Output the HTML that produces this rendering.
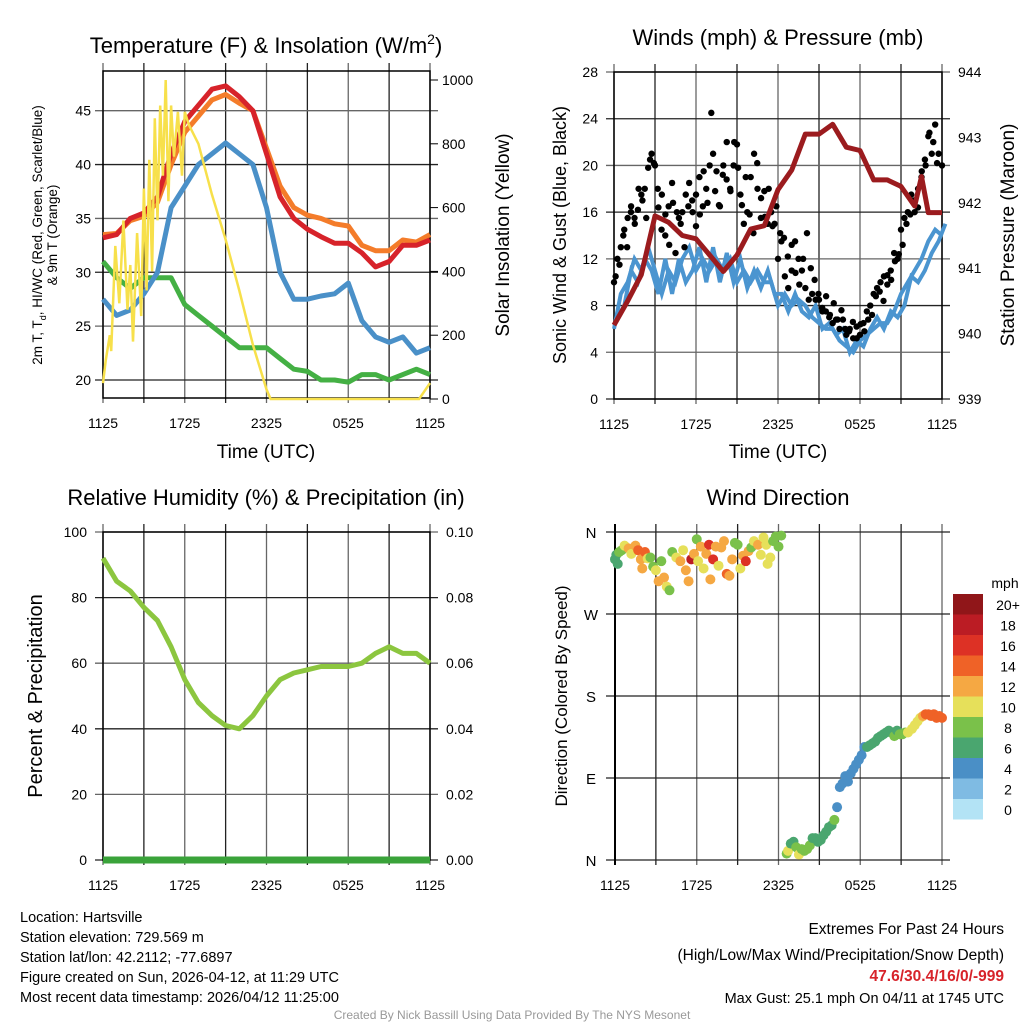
<!DOCTYPE html>
<html><head><meta charset="utf-8"><style>
body{margin:0;background:#fff;}
svg{display:block;font-family:"Liberation Sans",sans-serif;}
</style></head><body>
<svg id="c" width="1024" height="1024" viewBox="0 0 1024 1024"></svg>
<script>
// ---------- DATA ----------
const xTickLabels = ["1125","1725","2325","0525","1125"];
const tempHours = [0,1,2,3,4,5,6,7,8,9,10,11,12,13,14,15,16,17,18,19,20,21,22,23,24];
const tempRed = [33.2,33.5,35,35.5,37,41,44,45.5,47,47.3,46.3,45,41,37,35,34,33.3,32.7,32.7,31.8,30.5,31,32.5,32.5,33];
const temp9m = [33.5,33.6,34.8,35.2,36.5,40,43,44.5,46,46.5,45.7,45,41.5,38,36,35.3,35,34.5,34.3,32.5,32,32,33,32.8,33.5];
const tempBlue = [27.5,26,26.5,28,30,36,38,40,41,42,41,40,36,30,27.5,27.5,27.8,28,29,25.5,24,23.5,24,22.5,23];
const tempGreen = [31,29.5,28.5,29.5,29.5,29.5,27,26,25,24,23,23,23,22,21,20.8,20,20,19.8,20.5,20.5,20,20.5,21,20.5];
const solarHours = [0,0.2,0.5,0.6,0.9,1.2,1.5,1.8,2.0,2.2,2.5,2.8,3.0,3.2,3.4,3.6,3.8,4.0,4.2,4.4,4.6,4.8,5.0,5.2,5.5,5.8,6.0,6.3,7,8,9,10,11,12,12.3,23.2,24];
const solarVals = [50,120,200,150,480,300,560,280,420,180,520,260,660,340,750,400,880,560,920,700,1000,620,920,760,900,700,900,860,800,640,500,340,170,30,0,0,50];
const tempTicks = [20,25,30,35,40,45];
const solarTicks = [0,200,400,600,800,1000];
const windHours = [0,0.5,1,1.5,2,2.5,3,3.5,4,4.5,5,5.5,6,6.5,7,7.5,8,8.5,9,9.5,10,10.5,11,11.5,12,12.5,13,13.5,14,14.5,15,15.5,16,16.5,17,17.5,18,18.5,19,19.5,20,20.5,21,21.5,22,22.5,23,23.5,24];
const windVals = [6,9,10,12,11,13,11,9,11,10,12,13,11,12,11,12,11,12,10,11,10,11,10,10,8,9,8,8.5,8,7,6.5,6,6,5,4.5,4,5,5.5,6,6.5,6.5,7.5,9,10,11,12,13.5,14.5,14];
const windValsAlt = [7,8,11,10,12,11,9,12,9,12,10,11,13,10,13,10,12.5,10,12,9.5,11,9.5,11,9,9,7.5,9,7.5,7,8,6,6.5,5.5,6,4,5,4.5,6,7,6,7.5,7,8,10.5,10,11,12.5,13.5,15];
const gustVals = [10,12,13,14.5,15.5,16.5,15.5,16.2,17.5,18,19.8,21,20,16.4,17.5,14,16.5,18.5,12.5,15.5,16,17.5,18.5,16,17.5,19,16.5,18,20,21,19.5,16.5,20,22,18,20,21.8,17.5,15,16,19,21,18,15.5,17.8,15,16,15,12,13.5,10.5,9.5,11,13.5,12,11,9.5,8.5,9,8.5,8.5,7.5,7.5,7,6.5,6.8,6,6.8,5.5,6,5.2,6.2,5.5,6.5,7.5,8,9,9.5,10,10.5,9.8,11,12.5,12,14.5,15.5,16,17.5,16,18,19,20.5,22.5,21,23.5,21,20];
const gustVals2 = [10.5,11.5,14,13,16,15,18,17,15.5,20.5,20.2,18,14.5,15.8,13.2,16.8,16,15,13,16.5,17,14.8,15.8,19.5,16.8,24.5,17.8,16.6,19.2,18.8,17.8,22,19.8,16.6,19,15.8,14.2,20.2,17.2,15.6,18,14.8,16.5,14.2,13.8,12.2,13.2,10.8,9.8,12,14.2,11.2,10.2,9,7.8,8.8,7.2,8.2,6.8,7.6,6,5.8,6.6,5.2,6.4,5.8,6.8,7.2,8.8,9.2,8.4,10.6,10.2,11.8,12.4,13.2,15,15.8,17,16.4,19.5,20,22.8,22,20.2];
const pressHours = [0,1,2,3,4,5,6,7,8,9,10,11,12,13,14,15,16,17,18,19,20,21,22,22.5,23,24];
const pressVals = [940.13,940.5,940.9,941.8,941.7,941.5,941.45,941.2,940.95,941.2,941.6,941.65,942.2,942.5,943.05,943.05,943.2,942.85,942.8,942.35,942.35,942.25,941.95,942.4,941.85,941.85];
const windTicks = [0,4,8,12,16,20,24,28];
const pressTicks = [939,940,941,942,943,944];
const rhHours = [0,1,2,3,4,5,6,7,8,9,10,11,12,13,14,15,16,17,18,19,20,21,22,23,24];
const rhVals = [92,85,82,77,73,65,55,48,44,41,40,44,50,55,57,58,59,59,59,60,63,65,63,63,60];
const precipVals = [0,0,0,0,0,0,0,0,0,0,0,0,0,0,0,0,0,0,0,0,0,0,0,0,0];
const rhTicks = [0,20,40,60,80,100];
const precipTicks = ["0.00","0.02","0.04","0.06","0.08","0.10"];
const dirHours = [0,0.1,0.2,0.3,0.5,0.7,1.0,1.2,1.5,1.7,1.9,2.0,2.2,2.4,2.6,2.8,3.0,3.2,3.4,3.6,3.8,4.0,4.2,4.5,4.8,5.0,5.2,5.4,5.6,5.8,6.0,6.1,6.3,6.5,6.7,6.9,7.0,7.2,7.4,7.6,7.8,8.0,8.2,8.4,8.6,8.8,9.0,9.2,9.4,9.6,9.8,10.0,10.2,10.5,10.7,10.9,11.1,11.2,11.4,11.6,11.8,12.0,12.2,
 12.6,12.7,12.9,13.1,13.3,13.5,13.7,13.9,14.1,14.3,14.5,14.7,14.9,15.1,15.3,15.5,15.7,15.9,16.1,16.3,16.5,16.7,16.9,17.1,17.3,17.5,17.7,17.9,18.1,18.3,18.5,18.7,18.9,19.1,19.3,19.5,19.7,19.9,20.1,20.3,20.5,20.7,20.9,21.1,21.3,21.5,21.8,22.0,22.2,22.4,22.6,22.8,23.0,23.2,23.4,23.6,23.8,24.0];
const dirVals = [330,335,325,338,340,345,342,336,345,340,330,320,338,331,332,322,318,306,328,310,300,296,338,332,328,340,318,306,330,336,352,328,344,320,336,346,308,330,344,323,343,350,314,312,330,348,346,320,334,328,339,343,350,346,335,354,346,325,332,350,355,344,356,
 7,10,18,20,14,6,12,10,12,16,24,24,20,22,27,31,36,38,44,58,80,84,92,86,95,100,105,110,115,124,124,126,128,130,134,136,138,140,142,140,136,142,138,138,140,140,144,148,152,156,158,160,160,158,160,156,158,156];
const dirSpeeds = [6,6,6,8,8,10,12,10,12,14,12,12,14,10,8,8,10,12,8,12,10,8,8,10,12,10,12,12,18,12,8,10,12,10,12,16,12,16,12,10,12,12,14,12,12,8,8,10,12,16,12,8,10,12,10,10,10,10,10,8,8,8,8,
 8,10,6,6,8,10,8,8,8,8,6,6,6,6,6,6,6,6,8,4,4,4,4,4,4,4,4,4,4,4,6,6,6,6,6,6,6,6,6,6,8,6,8,8,8,10,10,10,10,10,12,14,14,14,14,14,14,14];
const dirLabels = ["N","E","S","W","N"];
const speedBins = ["0","2","4","6","8","10","12","14","16","18","20+"];
const speedColors = ["#b3e3f5","#7fbbe3","#4a8fc6","#4aa66f","#7ac14a","#e6e05a","#f5a843","#ef6227","#dd3125","#bb1c24","#901619"];

// ---------- DRAW ----------
const NS="http://www.w3.org/2000/svg";
const svg=document.getElementById('c');
function mk(tag,attrs,parent){const e=document.createElementNS(NS,tag);for(const k in attrs)e.setAttribute(k,attrs[k]);(parent||svg).appendChild(e);return e;}
function txt(s,x,y,size,anchor,parent,extra){const t=mk('text',Object.assign({x:x,y:y,'font-size':size,'text-anchor':anchor||'middle',fill:'#000'},extra||{}),parent);t.textContent=s;return t;}
function lin(d0,d1,r0,r1){return v=>r0+(v-d0)/(d1-d0)*(r1-r0);}
function pathD(xs,ys,fx,fy){return xs.map((h,i)=>(i?'L':'M')+fx(h).toFixed(1)+','+fy(ys[i]).toFixed(1)).join('');}

function frame(g,x0,y0,x1,y1,fx,yticksPx){
  for(let k=0;k<=8;k++){const x=x0+(x1-x0)*k/8;
    const l=mk('line',{x1:x,y1:y0-8,x2:x,y2:y1+5,stroke:k%2?'#222':'#666','stroke-width':1.3},g);
    
    }
  yticksPx.forEach((y,i)=>{const l=mk('line',{x1:x0-8,y1:y,x2:x1+8,y2:y,stroke:i%2?'#666':'#222','stroke-width':1.3},g);
    
    });
  const b=mk('rect',{x:x0,y:y0,width:x1-x0,height:y1-y0,fill:'none',stroke:'#000','stroke-width':1.5},g);
  
  
  xTickLabels.forEach((s,i)=>{const t=txt(s,x0+(x1-x0)*i/4,y1+30,14,'middle',g);
    
    });
}

// Panel 1
{const g=mk('g',{});
 const X0=103,X1=430,Y0=71,Y1=398;
 const fx=lin(0,24,X0,X1), fy=lin(20,45,380,110.7), fs=lin(0,1000,399,80);
 frame(g,X0,Y0,X1,Y1,fx,tempTicks.map(fy));
 tempTicks.forEach(v=>{const t=txt(String(v),X0-12,fy(v)+5,14,'end',g);});
 solarTicks.forEach(v=>{const t=txt(String(v),X1+12,fs(v)+5,14,'start',g);
   const m=mk('line',{x1:X1,y1:fs(v),x2:X1+8,y2:fs(v),stroke:'#000'},g);});
 [[tempGreen,'#44b044','td-line'],[tempBlue,'#4a90c8','hiwc-line'],[temp9m,'#f47c2a','temp-9m-line'],[tempRed,'#d7232a','temp-2m-line']].forEach(s=>{
   const p=mk('path',{d:pathD(tempHours,s[0],fx,fy),fill:'none',stroke:s[1],'stroke-width':5,'stroke-linejoin':'round'},g);
   
   });
 const sp=mk('path',{d:pathD(solarHours,solarVals,fx,fs),fill:'none',stroke:'#f7e04b','stroke-width':2.5},g);
 
 
 const t1=txt('',266,53,22,'middle',g);t1.innerHTML='Temperature (F) &amp; Insolation (W/m<tspan dy="-9" font-size="14">2</tspan><tspan dy="9">)</tspan>';
 
 const xl=txt('Time (UTC)',266,458,19,'middle',g);
 const yl=txt('',0,0,13.5,'middle',g,{transform:'translate(42,235) rotate(-90)'});yl.innerHTML='2m T, T<tspan dy="4" font-size="9">d</tspan><tspan dy="-4">, HI/WC (Red, Green, Scarlet/Blue)</tspan>';
 
 const yl2=txt('& 9m T (Orange)',0,0,13.5,'middle',g,{transform:'translate(57,235) rotate(-90)'});
 const yr=txt('Solar Insolation (Yellow)',0,0,19,'middle',g,{transform:'translate(509,235) rotate(-90)'});
}
// Panel 2
{const g=mk('g',{});
 const X0=614,X1=942,Y0=72,Y1=399;
 const fx=lin(0,24,X0,X1), fy=lin(0,28,399,72), fp=lin(939,944,399,72);
 frame(g,X0,Y0,X1,Y1,fx,windTicks.map(fy));
 windTicks.forEach(v=>{const t=txt(String(v),X0-16,fy(v)+5,14,'end',g);});
 pressTicks.forEach(v=>{const t=txt(String(v),X1+16,fp(v)+5,14,'start',g);});
 const w1=mk('path',{d:pathD(windHours,windVals,fx,fy),fill:'none',stroke:'#4b95d0','stroke-width':4},g);
 
 const w2=mk('path',{d:pathD(windHours.map(h=>h+0.25),windValsAlt,fx,fy),fill:'none',stroke:'#4b95d0','stroke-width':4},g);
 
 gustVals.forEach((v,i)=>{const c=mk('circle',{cx:fx(i*0.25),cy:fy(v),r:3.2,fill:'#000'},g);
   });
 gustVals2.forEach((v,i)=>{const c=mk('circle',{cx:fx(i*0.28+0.12),cy:fy(v),r:3.2,fill:'#000'},g);
   });
 const pp=mk('path',{d:pathD(pressHours,pressVals,fx,fp),fill:'none',stroke:'#9b1b1e','stroke-width':5,'stroke-linejoin':'round'},g);
 
 const t=txt('Winds (mph) & Pressure (mb)',778,45,22,'middle',g);
 const xl=txt('Time (UTC)',778,458,19,'middle',g);
 const yl=txt('Sonic Wind & Gust (Blue, Black)',0,0,18,'middle',g,{transform:'translate(566,235) rotate(-90)'});
 const yr=txt('Station Pressure (Maroon)',0,0,19,'middle',g,{transform:'translate(1014,235) rotate(-90)'});
}
// Panel 3
{const g=mk('g',{});
 const X0=103,X1=430,Y0=532,Y1=860;
 const fx=lin(0,24,X0,X1), fy=lin(0,100,860,532), fq=lin(0,0.1,860,532);
 frame(g,X0,Y0,X1,Y1,fx,rhTicks.map(fy));
 rhTicks.forEach(v=>{const t=txt(String(v),X0-16,fy(v)+5,14,'end',g);});
 precipTicks.forEach((s,i)=>{const t=txt(s,X1+16,fy(rhTicks[i])+5,14,'start',g);});
 const pr=mk('path',{d:pathD(rhHours,precipVals,fx,fq),fill:'none',stroke:'#3aa33a','stroke-width':7},g);
 
 const rh=mk('path',{d:pathD(rhHours,rhVals,fx,fy),fill:'none',stroke:'#8cc63f','stroke-width':5,'stroke-linejoin':'round'},g);
 
 const t=txt('Relative Humidity (%) & Precipitation (in)',266,505,22,'middle',g);
 const yl=txt('Percent & Precipitation',0,0,20,'middle',g,{transform:'translate(42,696) rotate(-90)'});
}
// Panel 4
{const g=mk('g',{});
 const X0=615,X1=942,Y0=532,Y1=860;
 const fx=lin(0,24,X0,X1), fy=lin(0,360,860,532);
 for(let k=0;k<=8;k++){const x=X0+(X1-X0)*k/8;const l=mk('line',{x1:x,y1:Y0-8,x2:x,y2:Y1+5,stroke:k%2?'#222':'#666','stroke-width':1.3},g);
   }
 [0,90,180,270,360].forEach((v,i)=>{const l=mk('line',{x1:606,y1:fy(v),x2:950,y2:fy(v),stroke:'#222','stroke-width':1.3},g);
   
   const t=txt(dirLabels[i],591,fy(v)+6,15,'middle',g);});
 const ax=mk('line',{x1:X0,y1:Y0-8,x2:X0,y2:Y1+5,stroke:'#000','stroke-width':2},g);
 xTickLabels.forEach((s,i)=>{const t=txt(s,X0+(X1-X0)*i/4,Y1+30,14,'middle',g);});
 dirVals.forEach((d,i)=>{const bin=Math.min(10,Math.floor(dirSpeeds[i]/2));
   const c=mk('circle',{cx:fx(dirHours[i]),cy:fy(d),r:5,fill:speedColors[bin]},g);
   });
 const t=txt('Wind Direction',778,505,22,'middle',g);
 const yl=txt('Direction (Colored By Speed)',0,0,17,'middle',g,{transform:'translate(567,696) rotate(-90)'});
 const mph=txt('mph',1005,588,14,'middle',g);
 speedBins.forEach((s,i)=>{const y=799-i*20.5;
   const r=mk('rect',{x:953,y:y,width:30,height:20.5,fill:speedColors[i]},g);
   
   const l=txt(s,1008,y+16,14,'middle',g);});
}
// footer
{const g=mk('g',{});
 ["Location: Hartsville","Station elevation: 729.569 m","Station lat/lon: 42.2112; -77.6897","Figure created on Sun, 2026-04-12, at 11:29 UTC","Most recent data timestamp: 2026/04/12 11:25:00"].forEach((s,i)=>{
   const t=txt(s,20,922+i*20,14.5,'start',g);});
 const a=txt('Extremes For Past 24 Hours',1004,934,15.5,'end',g);
 const b=txt('(High/Low/Max Wind/Precipitation/Snow Depth)',1004,960,15.5,'end',g);
 const c=txt('47.6/30.4/16/0/-999',1004,981,15.5,'end',g,{fill:'#d7232a','font-weight':'bold'});
 const d=txt('Max Gust: 25.1 mph On 04/11 at 1745 UTC',1004,1003,14.5,'end',g);
 const e=txt('Created By Nick Bassill Using Data Provided By The NYS Mesonet',512,1019,12,'middle',g,{fill:'#999'});
}
</script>
</body></html>
